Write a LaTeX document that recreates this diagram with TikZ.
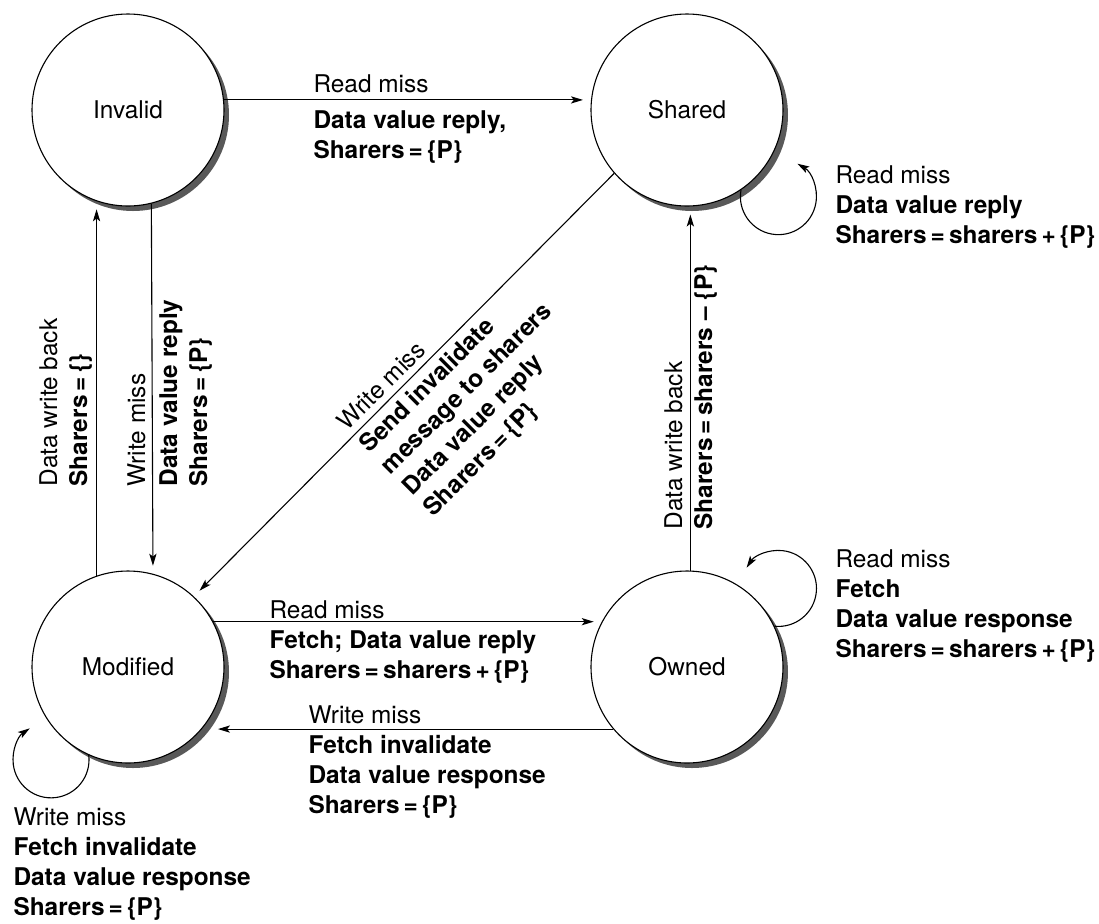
\documentclass[tikz,border=0pt]{standalone}
\usepackage{fontspec}
\setmainfont{TeX Gyre Heros}
\usetikzlibrary{positioning,shadows,arrows.meta}

\begin{document}
\begin{tikzpicture}[x=0.5pt, y=-0.5pt, ->, >={Stealth[length=6pt,width=3.6pt,inset=1.4pt]},
line width=0.55pt, node distance =278.5pt and 279.5pt, on grid,
state/.style ={circle, draw, fill=white, minimum size=96pt, inner sep=0pt,
   font=\fontsize{12.2}{15}\selectfont,
   drop shadow={shadow xshift=2.5pt, shadow yshift=-2.5pt, fill=black!65, opacity=1}},
txt/.style={font=\fontsize{12.2}{15}\selectfont, align=left, inner sep=0pt, anchor=base west},
bld/.style={txt, font=\fontsize{12.2}{15}\selectfont\bfseries},
tip/.style={shorten >=4pt}
]
\useasboundingbox (0,0) rectangle (1099,923);
\node[state] (Sinv) at (128,110) {Invalid};
\node[state] (Sshd) [right=of Sinv] {Shared};
\node[state] (Smod) [below=of Sinv] {Modified};
\node[state] (Sown) [right=of Smod] {Owned};
% transitions
\draw[tip] (Sinv.6) -- (Sshd.174);
\draw[tip] (Sinv.284.6) -- (Smod.75.4);
\draw[tip] (Smod.109) -- (Sinv.251);
\draw[tip] (Sshd.221) -- (Smod.47);
\draw[tip] (Smod.28) -- (Sown.152);
\draw[tip, shorten >=8pt] (Sown.220) -- (Smod.320);
\draw[tip] (Sown.88) -- (Sshd.272);
\draw (Sshd.-56) arc[start angle=170, end angle=420, radius=19pt];
\draw (Sown.25) arc[start angle=-96, end angle=147, radius=19pt];
\draw (Smod.246) arc[start angle=7, end angle=-236, radius=19pt];
% labels (base = last line)
\node[txt] (lRdIS) at (313,92) {Read miss};
\node[bld] (lDvIS) at (313,158) {Data value reply,\\Sharers\,=\,\{P\}};
\node[txt] (lSloop) at (835,243) {Read miss\\\textbf{Data value reply}\\\textbf{Sharers\,=\,sharers\,+\,\{P\}}};
\node[txt] (lOloop) at (835,657) {Read miss\\\textbf{Fetch}\\\textbf{Data value response}\\\textbf{Sharers\,=\,sharers\,+\,\{P\}}};
\node[txt] (lMloop) at (13,915) {Write miss\\\textbf{Fetch invalidate}\\\textbf{Data value response}\\\textbf{Sharers\,=\,\{P\}}};
\node[txt] (lRdMO) at (269,618) {Read miss};
\node[bld] (lFtMO) at (269,678) {Fetch; Data value reply\\Sharers\,=\,sharers\,+\,\{P\}};
\node[txt] (lWrOM) at (308,723) {Write miss};
\node[bld] (lFtOM) at (308,813) {Fetch invalidate\\Data value response\\Sharers\,=\,\{P\}};
\node[txt, rotate=90] (lWbMI) at (87,487) {Data write back\\\textbf{Sharers\,=\,\{\}}};
\node[txt, rotate=90] (lWrIM) at (145,487) {Write miss};
\node[bld, rotate=90] (lDvIM) at (207,487) {Data value reply\\Sharers\,=\,\{P\}};
\node[txt, rotate=90] (lWbOS) at (712,530) {Data write back\\\textbf{Sharers\,=\,sharers -- \{P\}}};
\node[txt, rotate=45] (lWrSM) at (347,432) {Write miss};
\node[bld, rotate=45] (lSiSM) at (433,518) {Send invalidate\\message to sharers\\Data value reply\\Sharers\,=\,\{P\}};
\end{tikzpicture}
\end{document}
